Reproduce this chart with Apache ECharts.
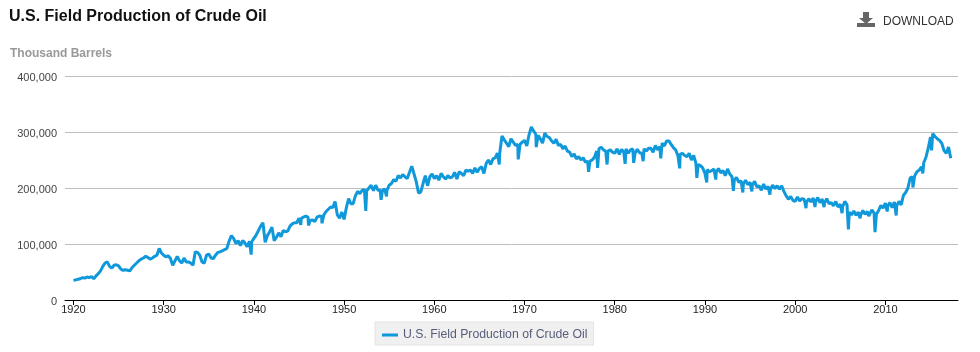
<!DOCTYPE html>
<html>
<head>
<meta charset="utf-8">
<title>U.S. Field Production of Crude Oil</title>
<script src="https://cdn.jsdelivr.net/npm/echarts@6/dist/echarts.min.js"></script>
<style>
html, body { margin: 0; padding: 0; background: #fff; }
#main { width: 980px; height: 352px; }
</style>
</head>
<body>
<div id="main"></div>
<script>
var chartDom = document.getElementById('main');
var myChart = echarts.init(chartDom);

const seriesName = 'U.S. Field Production of Crude Oil';
const yTicks = [0, 100000, 200000, 300000, 400000];
const decadeTicks = [1920, 1930, 1940, 1950, 1960, 1970, 1980, 1990, 2000, 2010];

// In million barrels, four readings a year from 1920.0
const barrels = [
    35, 36, 37, 38,  40, 39, 41, 40,  42, 38, 43, 47,  52, 60, 66, 68,
    60, 57, 62, 63,  61, 55, 53, 54,  53, 52, 58, 62,  66, 70, 73, 75,
    78, 76, 73, 75,  78, 80, 92, 84,  80, 77, 79, 74,  62, 70, 78, 70,
    66, 75, 68, 68,  66, 62, 86, 85,  80, 68, 66, 80,  82, 75, 74, 80,
    85, 86, 88, 90,  92, 105, 115, 110,  101, 106, 97, 106,  102, 95, 105, 104,
    110, 116, 124, 132,  138, 103, 115, 122,  130, 106, 112, 120,  113, 124, 122, 123,
    132, 136, 138, 138,  146, 146, 148, 150,  148, 142, 143, 140,  148, 150, 149, 152,
    158, 162, 166, 165,  176, 152, 146, 157,  144, 165, 181, 172,  172, 186, 194, 190,
    196, 197, 195, 200,  205, 195, 205, 196,  196, 196, 198, 196,  205, 208, 215, 212,
    222, 218, 224, 220,  217, 228, 239, 225,  211, 191, 193, 208,  222, 204, 220, 225,
    217, 222, 214, 226,  220, 216, 222, 218,  220, 228, 216, 229,  226, 222, 232, 230,
    232, 226, 236, 228,  235, 238, 226, 244,  250, 242, 252, 254,  262, 262, 293, 286,
    280, 274, 288, 282,  276, 278, 278, 282,  285, 275, 295, 309,  302, 296, 294, 288,
    280, 298, 292, 290,  284, 280, 287, 276,  278, 270, 275, 266,  264, 256, 261, 252,
    256, 250, 254, 246,  248, 248, 250, 255,  266, 270, 273, 268,  266, 266, 268, 264,
    262, 270, 260, 269,  264, 270, 262, 268,  270, 262, 269, 263,  262, 270, 266, 271,
    271, 264, 276, 268,  274, 280, 275, 284,  284, 278, 272, 268,  258, 260, 262, 258,
    256, 262, 250, 258,  244, 242, 240, 236,  226, 233, 229, 231,  234, 228, 235, 227,
    231, 222, 234, 225,  220, 214, 219, 210,  213, 207, 214, 206,  210, 205, 212, 202,
    204, 196, 207, 198,  203, 197, 205, 199,  204, 198, 204, 194,  186, 180, 185, 178,
    176, 184, 177, 181,  180, 174, 181, 175,  182, 175, 183, 174,  180, 173, 181, 172,
    174, 168, 176, 166,  171, 166, 176, 170,  157, 152, 159, 151,  157, 151, 160, 153,
    158, 150, 161, 155,  153, 160, 169, 164,  173, 167, 174, 165,  175, 168, 176, 170,
    187, 192, 200, 218,  220, 222, 229, 232,  238, 245, 255, 271,  291, 297, 292, 288,
    285, 280, 267, 262,  273, 253
];

// Short one-month dips that fall between the quarterly readings
const dipYears = [1939.7, 1945.2, 1946.05, 1947.55, 1952.4, 1954.1, 1954.7, 1967.2, 1969.3, 1971.3,
    1977.1, 1978.1, 1979.15, 1981.15, 1982.1, 1983.15, 1985.1, 1987.2, 1989.1, 1990.2,
    1991.2, 1993.15, 1994.2, 1995.2, 1997.2, 2001.2, 2002.2, 2003.2, 2005.2, 2005.9,
    2007.2, 2008.15, 2008.85, 2010.2, 2011.2, 2013.05, 2014.15, 2015.12];
const dipValues = [81, 134, 133, 137, 159, 179, 185, 242, 251, 273,
    229, 236, 242, 243, 245, 248, 253, 235, 218, 210,
    215, 195, 192, 194, 188, 164, 166, 166, 155, 126,
    146, 150, 121, 158, 151, 201, 226, 267];

const firstYear = 1920;
const points = barrels.map((v, i) => [firstYear + i / 4, v * 1000])
    .concat(dipYears.map((y, i) => [y, dipValues[i] * 1000]))
    .sort((a, b) => a[0] - b[0]);

const option = {
    animation: false,
    textStyle: { fontFamily: '"Liberation Sans", Arial, sans-serif' },
    title: {
        text: seriesName,
        left: 9,
        top: 9,
        padding: 0,
        textStyle: { fontSize: 16, fontWeight: 'bold', color: '#111' }
    },
    legend: {
        top: 322,
        left: 375,
        padding: [7, 6, 4, 7],
        backgroundColor: '#f0f0f0',
        borderColor: '#e3e3e3',
        borderWidth: 1,
        borderRadius: 0,
        icon: 'rect',
        itemWidth: 16,
        itemHeight: 3,
        itemGap: 0,
        textStyle: { fontSize: 12.25, color: '#565d78' },
        data: [seriesName]
    },
    grid: { left: 65, right: 22, top: 76, bottom: 52 },
    xAxis: {
        type: 'value',
        min: 1919.06,
        max: 2018.05,
        splitLine: { show: false },
        axisLine: { lineStyle: { color: '#000', width: 1 } },
        axisTick: { show: true, length: 5, customValues: decadeTicks, lineStyle: { color: '#000' } },
        axisLabel: {
            customValues: decadeTicks,
            formatter: function (n) { return String(n); },
            fontSize: 11,
            color: '#222',
            margin: 4
        }
    },
    yAxis: {
        type: 'value',
        min: yTicks[0],
        max: yTicks[yTicks.length - 1],
        interval: 100000,
        axisLine: { show: false },
        axisTick: { show: false },
        axisLabel: { fontSize: 11, color: '#444', margin: 8, verticalAlign: 'top', lineHeight: 3 },
        splitLine: { lineStyle: { color: '#bdbdbd', width: 1 } }
    },
    series: [
        {
            name: seriesName,
            type: 'line',
            data: points,
            showSymbol: false,
            lineStyle: { color: '#0f98da', width: 3 },
            itemStyle: { color: '#0f98da' }
        }
    ],
    graphic: {
        elements: [
            {
                type: 'text',
                left: 10,
                top: 48,
                style: { text: 'Thousand Barrels', font: 'bold 12px "Liberation Sans", Arial, sans-serif', fill: '#999' }
            },
            {
                type: 'polygon',
                shape: { points: [[863, 12], [869, 12], [869, 18], [873, 18], [866, 24], [859, 18], [863, 18]] },
                style: { fill: '#666' }
            },
            {
                type: 'rect',
                shape: { x: 857, y: 23, width: 18, height: 4 },
                style: { fill: '#666' }
            },
            {
                type: 'text',
                left: 883,
                top: 16,
                style: { text: 'DOWNLOAD', font: '12px "Liberation Sans", Arial, sans-serif', fill: '#333' }
            }
        ]
    }
};

myChart.setOption(option);
</script>
</body>
</html>
